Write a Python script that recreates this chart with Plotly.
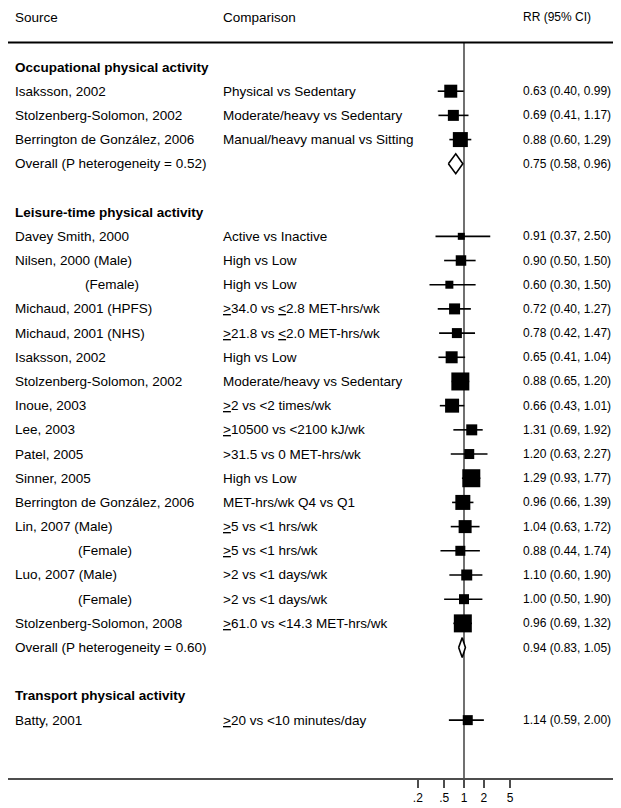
import math
import plotly.graph_objects as go

# ---------------- data ----------------
occ_sources = ["Isaksson, 2002", "Stolzenberg-Solomon, 2002", "Berrington de González, 2006"]
occ_comparisons = ["Physical vs Sedentary", "Moderate/heavy vs Sedentary", "Manual/heavy manual vs Sitting"]
occ_rr = [0.63, 0.69, 0.88]
occ_lo = [0.40, 0.41, 0.60]
occ_hi = [0.99, 1.17, 1.29]
occ_weight = [13, 11, 15]
occ_overall = [0.75, 0.58, 0.96]
occ_p_het = "0.52"

lei_sources = ["Davey Smith, 2000", "Nilsen, 2000 (Male)", "(Female)", "Michaud, 2001 (HPFS)",
               "Michaud, 2001 (NHS)", "Isaksson, 2002", "Stolzenberg-Solomon, 2002", "Inoue, 2003",
               "Lee, 2003", "Patel, 2005", "Sinner, 2005", "Berrington de González, 2006",
               "Lin, 2007 (Male)", "(Female)", "Luo, 2007 (Male)", "(Female)",
               "Stolzenberg-Solomon, 2008"]
lei_comparisons = ["Active vs Inactive", "High vs Low", "High vs Low",
                   "<u>&gt;</u>34.0 vs <u>&lt;</u>2.8 MET-hrs/wk",
                   "<u>&gt;</u>21.8 vs <u>&lt;</u>2.0 MET-hrs/wk",
                   "High vs Low", "Moderate/heavy vs Sedentary",
                   "<u>&gt;</u>2 vs &lt;2 times/wk",
                   "<u>&gt;</u>10500 vs &lt;2100 kJ/wk",
                   "&gt;31.5 vs 0 MET-hrs/wk", "High vs Low", "MET-hrs/wk Q4 vs Q1",
                   "<u>&gt;</u>5 vs &lt;1 hrs/wk", "<u>&gt;</u>5 vs &lt;1 hrs/wk",
                   "&gt;2 vs &lt;1 days/wk", "&gt;2 vs &lt;1 days/wk",
                   "<u>&gt;</u>61.0 vs &lt;14.3 MET-hrs/wk"]
lei_rr = [0.91, 0.90, 0.60, 0.72, 0.78, 0.65, 0.88, 0.66, 1.31, 1.20, 1.29, 0.96, 1.04, 0.88, 1.10, 1.00, 0.96]
lei_lo = [0.37, 0.50, 0.30, 0.40, 0.42, 0.41, 0.65, 0.43, 0.69, 0.63, 0.93, 0.66, 0.63, 0.44, 0.60, 0.50, 0.69]
lei_hi = [2.50, 1.50, 1.50, 1.27, 1.47, 1.04, 1.20, 1.01, 1.92, 2.27, 1.77, 1.39, 1.72, 1.74, 1.90, 1.90, 1.32]
lei_weight = [7, 10.5, 8, 11, 10, 12, 18, 14, 11, 10, 18, 15, 13, 10, 11, 10, 18]
lei_overall = [0.94, 0.83, 1.05]
lei_p_het = "0.60"

tra_sources = ["Batty, 2001"]
tra_comparisons = ["<u>&gt;</u>20 vs &lt;10 minutes/day"]
tra_rr = [1.14]
tra_lo = [0.59]
tra_hi = [2.00]
tra_weight = [10]

headers = ["Source", "Comparison", "RR (95% CI)"]
section_titles = ["Occupational physical activity", "Leisure-time physical activity", "Transport physical activity"]
tick_vals = [0.2, 0.5, 1, 2, 5]
tick_text = [".2", ".5", "1", "2", "5"]

# ---------------- layout geometry ----------------
# the page body has an 8px margin, so the figure starts at (8, 8) of the window
OFF = 8
W, H = 621 - OFF, 808 - OFF
ML, MR, MT = 0, 0, 0
AXIS_PAGE_Y = 778
MB = H - (AXIS_PAGE_Y - OFF)
PW = W - ML - MR
ROW0_PX, ROW_PX = 67.0, 24.19          # page pixel of first row, row pitch
def row_of(page_px):
    return (page_px - ROW0_PX) / ROW_PX
Y_TOP = row_of(OFF + MT)
Y_BOT = row_of(AXIS_PAGE_Y)
PX_PER_DEC = 66.0
ONE_PX = 464.0
x_range = [-(ONE_PX - OFF - ML) / PX_PER_DEC, (621 - MR - ONE_PX) / PX_PER_DEC]

def xp(page_px):
    return (page_px - OFF - ML) / PW

X_SRC, X_CMP, X_RR = 14, 222, 522
FONT = "Liberation Sans, Arial, Helvetica, sans-serif"
FS = 13.5
FS_RR = 12

# ---------------- build rows ----------------
rows = []
def add_section(title, srcs, cmps, rr, lo, hi, wt, overall=None, phet=None):
    rows.append(("title", title))
    for s, c, r, l, h, w in zip(srcs, cmps, rr, lo, hi, wt):
        rows.append(("study", s, c, r, l, h, w))
    if overall is not None:
        rows.append(("overall", "Overall (P heterogeneity = %s)" % phet, overall))

add_section(section_titles[0], occ_sources, occ_comparisons, occ_rr, occ_lo, occ_hi, occ_weight, occ_overall, occ_p_het)
rows.append(("blank",))
add_section(section_titles[1], lei_sources, lei_comparisons, lei_rr, lei_lo, lei_hi, lei_weight, lei_overall, lei_p_het)
rows.append(("blank",))
add_section(section_titles[2], tra_sources, tra_comparisons, tra_rr, tra_lo, tra_hi, tra_weight)

annotations = []
def txt(x_px, y, s, bold=False, size=FS):
    annotations.append(dict(x=xp(x_px), y=y, xref="paper", yref="y", text=("<b>%s</b>" % s if bold else s),
                            showarrow=False, xanchor="left", yanchor="middle", borderpad=0,
                            font=dict(family=FONT, size=size, color="black")))

head_y = row_of(17)
txt(X_SRC, head_y, headers[0])
txt(X_CMP, head_y, headers[1])
txt(X_RR, head_y, headers[2], size=FS_RR)

ci_x, ci_y = [], []
sq_x, sq_y, sq_s = [], [], []
diamonds = []
female_count = 0
for i, r in enumerate(rows):
    kind = r[0]
    if kind == "title":
        txt(X_SRC, i, r[1], bold=True)
    elif kind == "study":
        _, s, c, est, l, h, w = r
        xs = X_SRC
        if s == "(Female)":
            xs = 84 if female_count == 0 else 77
            female_count += 1
        txt(xs, i, s)
        txt(X_CMP, i, c)
        txt(X_RR, i, "%.2f (%.2f, %.2f)" % (est, l, h), size=FS_RR)
        ci_x += [l, h, None]
        ci_y += [i, i, None]
        sq_x.append(est); sq_y.append(i); sq_s.append(w)
    elif kind == "overall":
        _, s, (est, l, h) = r
        txt(X_SRC, i, s)
        txt(X_RR, i, "%.2f (%.2f, %.2f)" % (est, l, h), size=FS_RR)
        diamonds.append((est, l, h, i))

fig = go.Figure()
line_top = row_of(42.5)
# reference line at RR = 1
fig.add_trace(go.Scatter(x=[1, 1], y=[line_top, Y_BOT], mode="lines",
                         line=dict(color="#4d4d4d", width=1.6), hoverinfo="skip", showlegend=False))
# CI lines
fig.add_trace(go.Scatter(x=ci_x, y=ci_y, mode="lines", line=dict(color="black", width=1.6),
                         hoverinfo="skip", showlegend=False))
# squares (size by study weight)
fig.add_trace(go.Scatter(x=sq_x, y=sq_y, mode="markers",
                         marker=dict(symbol="square", size=sq_s, color="black", opacity=1,
                                     line=dict(width=0)),
                         hoverinfo="skip", showlegend=False))
# diamonds for pooled estimates
DH = 0.41
for est, l, h, i in diamonds:
    fig.add_trace(go.Scatter(x=[l, est, h, est, l], y=[i, i - DH, i, i + DH, i], mode="lines",
                             fill="toself", fillcolor="white", line=dict(color="black", width=1.6),
                             hoverinfo="skip", showlegend=False))

shapes = [dict(type="line", xref="paper", yref="y", x0=0, x1=1, y0=line_top, y1=line_top,
               line=dict(color="black", width=2))]

fig.update_layout(
    width=W, height=H, margin=dict(l=ML, r=MR, t=MT, b=MB),
    paper_bgcolor="white", plot_bgcolor="white",
    showlegend=False, annotations=annotations, shapes=shapes,
    xaxis=dict(type="log", range=x_range, tickvals=tick_vals, ticktext=tick_text,
               showline=True, linecolor="#4d4d4d", linewidth=2, ticks="outside", ticklen=8,
               tickwidth=1.5, tickcolor="#4d4d4d", showgrid=False, zeroline=False,
               tickfont=dict(family=FONT, size=FS_RR, color="black"), fixedrange=True),
    yaxis=dict(range=[Y_BOT, Y_TOP], visible=False, showgrid=False, zeroline=False, fixedrange=True),
)
fig.write_html("out.html")
